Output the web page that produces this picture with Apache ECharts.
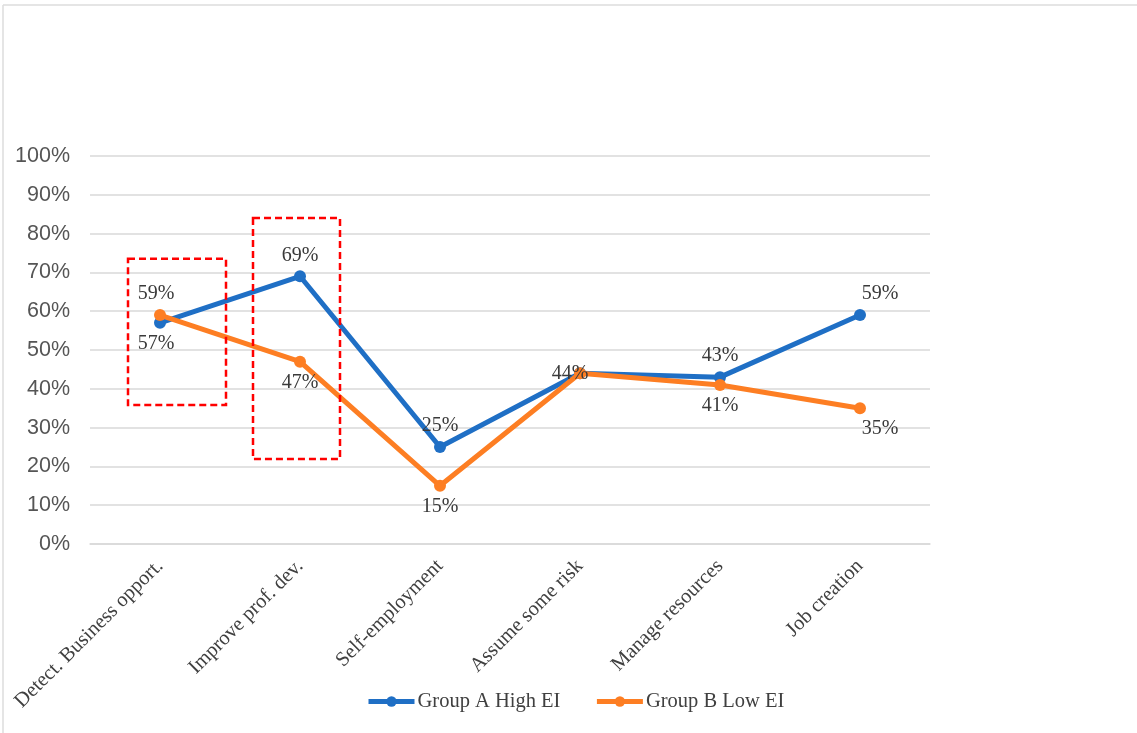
<!DOCTYPE html>
<html>
<head>
<meta charset="utf-8">
<script src="https://cdn.jsdelivr.net/npm/echarts@6/dist/echarts.min.js"></script>
<style>
  html, body { margin: 0; padding: 0; background: #fff; }
  #chart { width: 1137px; height: 733px; }
</style>
</head>
<body>
<div id="chart"></div>
<script>
// Skills compared between the two emotional-intelligence groups
const categories = ['Detect. Business opport.', 'Improve prof. dev.', 'Self-employment', 'Assume some risk', 'Manage resources', 'Job creation'];
const groupA = [57, 69, 25, 44, 43, 59];
const groupB = [59, 47, 15, 44, 41, 35];
const yTicks = [0, 10, 20, 30, 40, 50, 60, 70, 80, 90, 100];

// where each value label sits relative to its point
const labelPosA = ['bottom', 'top', 'top', 'none', 'top', 'top'];
const labelPosB = ['top', 'bottom', 'bottom', 'center', 'bottom', 'bottom'];

// dashed highlight boxes: category index, value range, pixel reach left/right of the category centre
const highlightBoxes = [
  { cat: 0, from: 35.8, to: 73.5, left: 32, right: 66 },
  { cat: 1, from: 21.9, to: 84.0, left: 47, right: 40 }
];

const BLUE = '#1f6fc5';
const ORANGE = '#fd7e23';
const SERIF = '"Liberation Serif", "Times New Roman", serif';
const SANS = '"Liberation Sans", Arial, sans-serif';

function buildData(values, positions) {
  return values.map((v, i) => {
    const pos = positions[i];
    const item = { value: v, label: { show: pos !== 'none' } };
    if (pos === 'center') {
      item.label.position = 'inside';
      item.label.offset = [-10, 0];
    } else if (pos !== 'none') {
      item.label.position = pos;
      if (i === values.length - 1) item.label.offset = [20, 0];
      else if (i === 0) item.label.offset = [-4, 0];
    }
    return item;
  });
}

const chart = echarts.init(document.getElementById('chart'), null, { renderer: 'canvas' });

const lineLabel = { fontFamily: SERIF, fontSize: 20, color: '#3a3a3a', distance: 5, formatter: p => p.value + '%' };

const option = {
  animation: false,
  backgroundColor: '#ffffff',
  grid: { left: 90, right: 207, top: 156, bottom: 189, containLabel: false },
  legend: {
    left: 361,
    top: 686,
    itemWidth: 46,
    itemHeight: 13,
    itemGap: 34,
    lineStyle: { width: 5 },
    textStyle: { fontFamily: SERIF, fontSize: 20.5, color: '#404040', padding: [0, 0, 0, -2] },
    data: ['Group A High EI', 'Group B Low EI']
  },
  xAxis: {
    type: 'category',
    data: categories,
    boundaryGap: true,
    axisLine: { show: true, lineStyle: { color: '#d9d9d9', width: 1.5 } },
    axisTick: { show: false },
    axisLabel: {
      rotate: 45,
      margin: 19,
      interval: 0,
      fontFamily: SERIF,
      fontSize: 20.5,
      color: '#404040'
    }
  },
  yAxis: {
    type: 'value',
    min: yTicks[0],
    max: yTicks[yTicks.length - 1],
    interval: 10,
    axisLine: { show: false },
    axisTick: { show: false },
    splitLine: { lineStyle: { color: '#d9d9d9', width: 1.5 } },
    axisLabel: {
      margin: 20,
      fontFamily: SANS,
      fontSize: 21.5,
      color: '#555555',
      formatter: v => v + '%'
    }
  },
  series: [
    {
      name: 'Group A High EI',
      type: 'line',
      data: buildData(groupA, labelPosA),
      color: BLUE,
      lineStyle: { width: 5, color: BLUE },
      symbol: 'circle',
      symbolSize: 12,
      itemStyle: { color: BLUE },
      label: lineLabel,
      z: 2
    },
    {
      name: 'Group B Low EI',
      type: 'line',
      data: buildData(groupB, labelPosB),
      color: ORANGE,
      lineStyle: { width: 5, color: ORANGE },
      symbol: 'circle',
      symbolSize: 12,
      itemStyle: { color: ORANGE },
      label: lineLabel,
      z: 3
    }
  ]
};

chart.setOption(option);

// frame lines along the top and left edge, plus the dashed highlight boxes
const graphics = [
  { type: 'line', shape: { x1: 3, y1: 5, x2: 1137, y2: 5 }, style: { stroke: '#dcdcdc', lineWidth: 1.5 }, silent: true },
  { type: 'line', shape: { x1: 3, y1: 5, x2: 3, y2: 733 }, style: { stroke: '#dcdcdc', lineWidth: 1.5 }, silent: true }
];
highlightBoxes.forEach(b => {
  const top = chart.convertToPixel({ gridIndex: 0 }, [b.cat, b.to]);
  const bottom = chart.convertToPixel({ gridIndex: 0 }, [b.cat, b.from]);
  graphics.push({
    type: 'rect',
    shape: { x: top[0] - b.left, y: top[1], width: b.left + b.right, height: bottom[1] - top[1] },
    style: { fill: 'none', stroke: '#ff0000', lineWidth: 2.5, lineDash: [7, 4] },
    z: 10,
    silent: true
  });
});
chart.setOption({ graphic: graphics });
</script>
</body>
</html>
